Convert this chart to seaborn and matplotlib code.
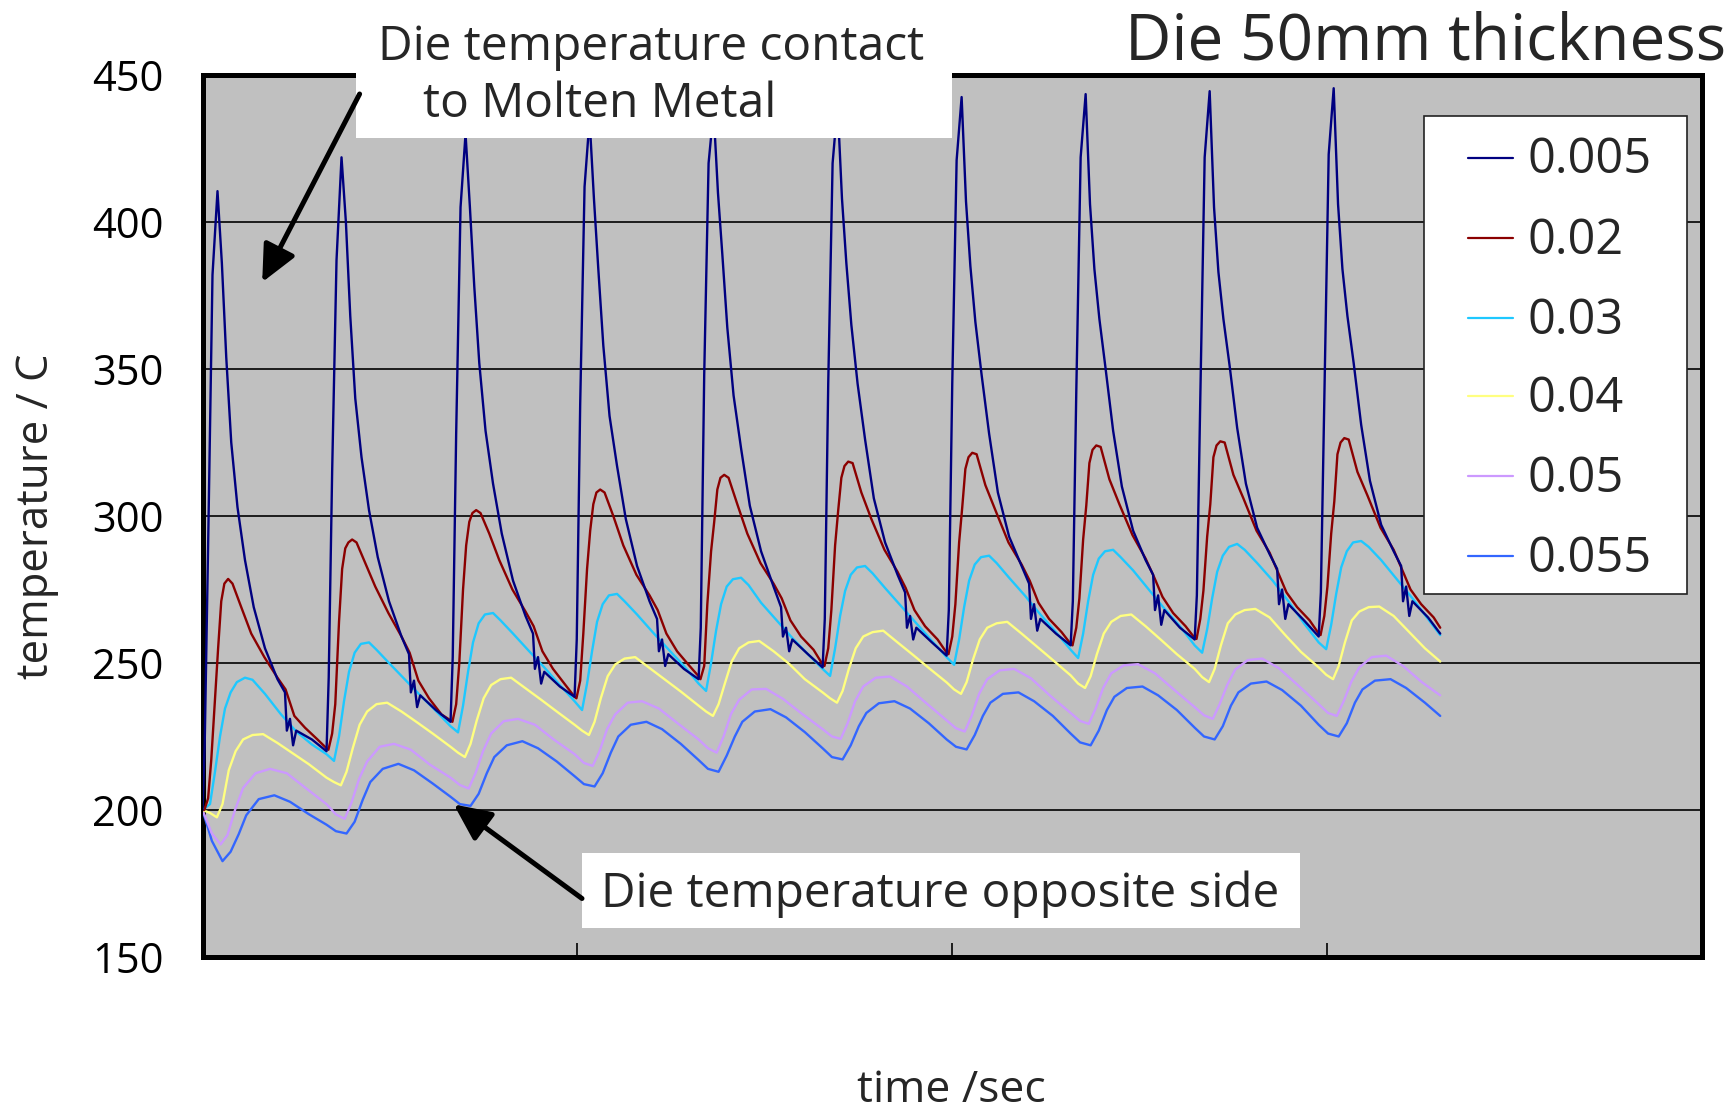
import matplotlib
matplotlib.use("Agg")
import matplotlib.pyplot as plt
import seaborn as sns
import pandas as pd
from matplotlib.patches import Rectangle, FancyArrowPatch
from matplotlib.lines import Line2D

# ---------------- data ----------------
cycle_start = [0, 19.85, 39.7, 59.55, 79.4, 99.25, 119.1, 138.95, 158.8, 178.65]
t_end = 198.1

labels = ["0.005", "0.02", "0.03", "0.04", "0.05", "0.055"]
colors = ["#000080", "#8B0000", "#1EC8FF", "#FFFF80", "#CC99FF", "#3366FF"]

# 0.005 (dark blue) - phases within each cycle and readings per cycle
ph_005 = [0, 0.35, 0.9, 1.6, 2.4, 3.1, 3.8, 4.6, 5.6, 6.8, 8.2, 10.0, 12.0, 13.2, 13.5, 14.0, 14.5, 15.0, 17.5]
T_005 = [
    [200, 222, 290, 382, 410.5, 386, 354, 325, 303, 285, 269, 255, 244.5, 240, 227, 231, 222, 227, 224],
    [220, 245, 315, 387, 422, 400, 368, 340, 320, 302, 286, 271, 259, 253, 240, 244, 235, 239, 234],
    [230, 252, 328, 405, 430, 405, 378, 352, 329, 311, 294, 278, 266, 260, 248, 252, 243, 247, 242],
    [238.5, 258, 338, 412, 435, 408, 384, 358, 334, 317, 299, 283, 271, 265, 254, 258, 249, 253, 248],
    [244.5, 262, 348, 420, 438, 410, 389, 364, 341, 323, 303.5, 288, 276, 269, 259, 262, 254, 258, 253],
    [248.5, 265, 345, 420, 440, 408, 386, 365, 345, 326, 306, 291, 280, 274, 262, 266, 258, 262, 257],
    [252.5, 268, 345, 421, 442.5, 407, 385, 366, 348, 328, 308, 293, 283, 277, 265, 270, 261, 265, 260],
    [256, 271, 342, 422, 443.5, 406, 384, 367, 350, 329, 310, 295, 285, 280, 268, 273, 263, 268, 262],
    [258, 273, 340, 422, 444.5, 405, 383, 367, 351, 330, 311, 296, 287, 282, 270, 275, 265, 270, 264.5],
    [259, 274, 340, 423, 445.5, 406, 384, 368, 352, 331, 312, 297, 288, 283, 271, 276, 266, 271, 265.5],
]
end_005 = 260

# 0.02 (dark red)
ph_02 = [0, 0.3, 0.9, 1.4, 2.0, 2.5, 3.0, 3.5, 4.1, 4.8, 6.2, 7.8, 9.9, 12.0, 13.3, 14.7, 16.4, 18.4]
T_02 = [
    [200, 200, 204, 217, 238, 255, 271, 277, 278.6, 277, 269, 260, 252, 245, 241, 232, 228, 224],
    [221, 220.5, 226, 236, 264, 282, 289, 291, 292, 291, 284, 276, 267, 259, 253.5, 244, 238, 232.5],
    [230.5, 230, 236, 250, 275, 290, 298, 301, 302, 301, 294, 285, 275, 267.5, 262.5, 254, 248, 242.5],
    [238.5, 238, 244, 260, 282, 295, 304, 308, 309, 308, 300, 290, 280, 273, 268, 260, 254, 249],
    [245.5, 244.5, 249, 270, 288, 298, 309, 313, 314, 313, 304, 294, 284, 277, 272, 264.5, 259, 254.5],
    [249.5, 249, 255, 268, 290, 302, 313, 317, 318.5, 318, 308, 299, 288.5, 281, 275.5, 268, 262.5, 258],
    [253.5, 253, 259, 270, 291, 303, 316, 320, 321.5, 321, 310.5, 302, 291, 283.5, 278, 270.5, 265, 260.5],
    [256.5, 256, 262, 272, 292, 303.5, 318, 322.5, 324, 323.5, 312.5, 304, 293.5, 285.5, 279.5, 272.5, 267, 262.5],
    [258.5, 258.2, 265, 274.6, 293, 304, 320, 324, 325.4, 325, 314, 306, 295, 287.5, 281, 274, 269, 264.5],
    [260, 259.5, 266, 276, 294, 305, 321, 325, 326.5, 326, 315, 307, 296, 288.5, 282, 275, 270, 265.5],
]
end_02 = 262

# 0.03 (cyan)
ph_03 = [0, 1.2, 2.0, 2.8, 3.6, 4.5, 5.5, 6.8, 8.0, 10.0, 12.5, 15.0, 17.5]
T_03 = [
    [200, 202, 213, 225, 234.5, 240, 243.5, 245, 244.3, 239.5, 232.7, 226.7, 222.3],
    [219, 216.7, 225, 237, 247, 253.5, 256.5, 257, 254.5, 250, 244.5, 239, 233.7],
    [228.5, 226.4, 235.5, 247, 257, 263.5, 266.5, 267, 264.5, 260, 254.2, 248.5, 242.5],
    [237, 234, 243, 254, 264, 270, 273, 273.5, 271, 266.5, 260.5, 254.7, 249],
    [243, 240.5, 250, 261, 270, 276, 278.5, 279, 276.5, 270.5, 264.5, 258.5, 253],
    [248, 245.6, 255, 266, 274.5, 280, 282.5, 283, 280.5, 275.5, 269.5, 263.5, 257.5],
    [252, 249.4, 258, 269, 278, 283.5, 286, 286.5, 284, 279, 273, 266.5, 260.5],
    [254.5, 251.7, 260, 271, 280, 285.5, 288, 288.5, 286, 281.5, 275, 268.5, 262.5],
    [256, 253.5, 261.5, 272, 281, 286.5, 289.5, 290.5, 288.5, 284, 278, 271, 263.5],
    [257, 254.7, 263, 273.5, 282.5, 288, 291, 291.5, 289.5, 285, 278.5, 272, 265],
]
end_03 = 259.5

# 0.04 (yellow)
ph_04 = [0, 1.2, 2.3, 3.2, 4.2, 5.3, 6.5, 8.0, 9.7, 12.0, 14.5, 17.0]
T_04 = [
    [200, 199, 197.5, 202, 213.5, 220, 224, 225.5, 225.8, 222.8, 219.2, 215.6],
    [211, 209.5, 208.4, 213, 221, 229, 233.5, 236, 236.5, 233.5, 229.8, 226],
    [221.5, 219.5, 218, 222.5, 230.5, 238, 242.5, 244.5, 245, 241.4, 237.5, 233.5],
    [229, 227, 225.5, 230, 238, 245.5, 249.5, 251.5, 252, 248.3, 244.3, 240.3],
    [235.5, 233.5, 232, 236, 243, 250.5, 255, 257, 257.5, 254, 249.7, 244.5],
    [240, 238, 236.5, 240.5, 248, 255, 259, 260.5, 261, 257, 252.7, 248.3],
    [243.4, 241, 239.5, 243.5, 251, 258, 262, 263.5, 264, 260, 255.5, 251],
    [245.8, 243, 241.5, 245.5, 253, 260, 264, 266, 266.5, 262.5, 257.8, 253],
    [248, 245.2, 243.5, 248, 256, 263.5, 266.5, 268, 268.4, 265.5, 259.5, 253.8],
    [248.5, 246, 244.5, 249, 257, 264.5, 267.5, 269, 269.2, 266, 260.5, 255],
]
end_04 = 250.5

# 0.05 (lavender)
ph_05 = [0, 1.5, 2.9, 4.0, 5.2, 6.5, 8.5, 10.8, 13.5, 16.5]
T_05 = [
    [200, 192, 188.3, 191.5, 200, 207.5, 212.5, 214, 212.5, 207.5],
    [202, 198.5, 197, 202.5, 210.5, 216.5, 221.5, 222.5, 220.5, 215.5],
    [211, 208.5, 207.3, 212.5, 220, 226, 230.2, 231, 229, 224],
    [219, 216, 215, 220, 227.5, 232.5, 236.5, 237, 234.5, 229.5],
    [224, 221, 219.5, 225, 232.7, 237.5, 241, 241.2, 237.8, 232.8],
    [227.5, 225, 224.2, 229.5, 237, 242, 245, 245.4, 242, 236.5],
    [230.5, 227.8, 226.7, 232, 239.5, 244.5, 247.5, 248, 244.8, 239],
    [233, 230.3, 229.3, 234.5, 241.5, 246.5, 249.2, 249.6, 246.5, 241],
    [235, 232.2, 231, 236, 242.5, 247.8, 251, 251.5, 248.2, 242.5],
    [236, 233, 232, 237, 243.5, 248.5, 252, 252.5, 249, 243.5],
]
end_05 = 239

# 0.055 (blue)
ph_055 = [0, 1.5, 3.2, 4.5, 5.8, 7.0, 9.0, 11.5, 14.0, 17.0]
T_055 = [
    [200, 189.5, 182.6, 185.8, 191.8, 198.2, 203.7, 205, 202.8, 198.6],
    [195, 192.8, 192, 196, 203.5, 209.5, 214, 215.7, 213.5, 209],
    [204.5, 202, 201.4, 205.5, 212.5, 218, 222, 223.4, 221, 216.5],
    [211.5, 208.8, 208, 212.5, 219.5, 225, 229, 230, 227.5, 222.5],
    [217, 214, 213, 218.5, 225, 230, 233.5, 234.3, 231.5, 226.5],
    [221, 218, 217.2, 222, 228.5, 233, 236.3, 237, 234.5, 229.5],
    [224, 221.5, 220.6, 225.5, 232, 236.5, 239.5, 240, 237, 232],
    [226, 223, 222, 227, 234, 238.5, 241.5, 242, 239, 234],
    [228, 225, 224, 228.5, 235.5, 240, 243, 243.7, 240.8, 235.5],
    [229, 226, 225, 229.5, 236.5, 241, 244, 244.5, 241.5, 236.5],
]
end_055 = 232

y_ticks = [150, 200, 250, 300, 350, 400, 450]
x_ticks = [0, 60, 120, 180, 240]

title_text = "Die 50mm thickness"
note_top = ["Die temperature contact", "to Molten Metal"]
note_bottom = "Die temperature opposite side"
x_label = "time /sec"
y_label = "temperature / C"

# ---------------- build long table ----------------
series = [
    (labels[0], ph_005, T_005, end_005),
    (labels[1], ph_02, T_02, end_02),
    (labels[2], ph_03, T_03, end_03),
    (labels[3], ph_04, T_04, end_04),
    (labels[4], ph_05, T_05, end_05),
    (labels[5], ph_055, T_055, end_055),
]
rows = []
for lab, ph, vals, endv in series:
    for c0, row in zip(cycle_start, vals):
        for p, v in zip(ph, row):
            rows.append((lab, c0 + p, v))
    rows.append((lab, t_end, endv))
df = pd.DataFrame(rows, columns=["series", "time", "temp"])

# ---------------- figure ----------------
sns.set_style("white")
plt.rcParams["font.family"] = ["Open Sans", "DejaVu Sans"]

W, H = 1735, 1111
fig = plt.figure(figsize=(W / 100, H / 100), dpi=100)
ax = fig.add_axes([202.5 / W, 1 - 957 / H, (1702 - 202.5) / W, (957 - 75) / H])
ax.set_facecolor("#C0C0C0")

sns.lineplot(data=df, x="time", y="temp", hue="series", hue_order=labels,
             palette=dict(zip(labels, colors)), estimator=None, sort=True,
             linewidth=1.7, ax=ax, legend=False)
for i, line in enumerate(ax.lines):
    line.set_zorder(10 - i)

ax.set_xlim(0, 240)
ax.set_ylim(150, 450)
ax.set_yticks(y_ticks)
ax.set_xticks(x_ticks)
ax.set_xlabel("")
ax.set_ylabel("")
ax.yaxis.grid(True, color="black", linewidth=1.2)
ax.xaxis.grid(False)
ax.set_axisbelow(True)
ax.tick_params(axis="y", length=0, pad=28, labelsize=30, labelcolor="black")
ax.tick_params(axis="x", direction="in", length=10, width=1.2, color="black",
               labelbottom=False, bottom=True)
for sp in ax.spines.values():
    sp.set_visible(True)
    sp.set_color("black")
    sp.set_linewidth(3.6)

# axis labels
fig.text(36.5 / W, 1 - 516.7 / H, y_label, rotation=90, ha="center", va="center", fontsize=31.5)
fig.text(951.6 / W, 1 - 1091 / H, x_label, ha="center", va="center", fontsize=32)

# title
fig.text(1726 / W, 1 - 42 / H, title_text, ha="right", va="center", fontsize=46)

# annotation box (top)
fig.add_artist(Rectangle((356.3 / W, 1 - 138.3 / H), (951.6 - 356.3) / W, 138.3 / H,
                         transform=fig.transFigure, facecolor="white", edgecolor="none", zorder=20))
fig.text(378.4 / W, 1 - 47 / H, note_top[0], ha="left", va="center", fontsize=34.5, zorder=21)
fig.text(422.7 / W, 1 - 104 / H, note_top[1], ha="left", va="center", fontsize=34.5, zorder=21)

# annotation box (bottom)
fig.add_artist(Rectangle((582 / W, 1 - 928 / H), (1300 - 582) / W, (928 - 853) / H,
                         transform=fig.transFigure, facecolor="white", edgecolor="none", zorder=20))
fig.text(600.8 / W, 1 - 894 / H, note_bottom, ha="left", va="center", fontsize=34.4, zorder=21)

# arrows
for (x0, y0), (x1, y1) in [((359.6, 94), (262.2, 282.2)), ((582, 898.5), (453.7, 804.4))]:
    fig.add_artist(FancyArrowPatch((x0 / W, 1 - y0 / H), (x1 / W, 1 - y1 / H),
                                   transform=fig.transFigure,
                                   arrowstyle="-|>,head_length=1.6,head_width=0.75",
                                   mutation_scale=14, linewidth=3.6, color="black",
                                   shrinkA=0, shrinkB=0, zorder=22))

# legend (drawn as a box with line samples)
lx0, lx1, ly0, ly1 = 1424, 1687, 116, 594
fig.add_artist(Rectangle((lx0 / W, 1 - ly1 / H), (lx1 - lx0) / W, (ly1 - ly0) / H,
                         transform=fig.transFigure, facecolor="white", edgecolor="#222222",
                         linewidth=1.2, zorder=20))
row_y = [157.5, 238.2, 317.9, 396.4, 476.1, 555.8]
for lab, col, yy in zip(labels, colors, row_y):
    fig.add_artist(Line2D([1468 / W, 1512.6 / W], [1 - yy / H, 1 - yy / H],
                          transform=fig.transFigure, color=col, linewidth=1.6, zorder=21))
    fig.text(1527 / W, 1 - (yy + 3) / H, lab, ha="left", va="center", fontsize=35, zorder=21)

fig.savefig("out.png", dpi=100, facecolor="white")
